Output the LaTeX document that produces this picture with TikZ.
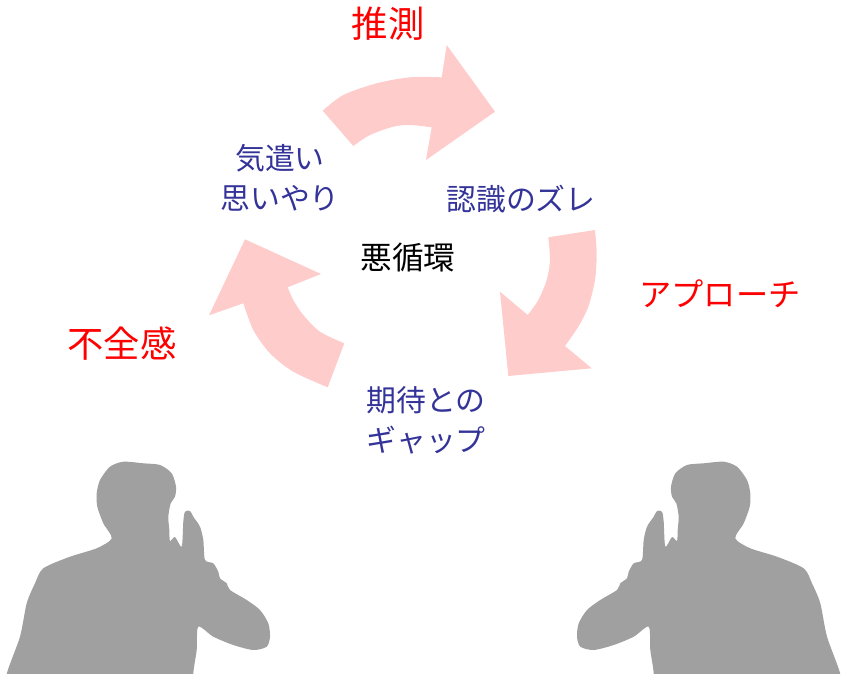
\documentclass[tikz,border=0pt]{standalone}
\usepackage{fontspec}
\setmainfont{Noto Sans CJK JP}
\definecolor{bandpink}{RGB}{255,204,204}
\definecolor{stageblue}{RGB}{51,51,153}
\definecolor{shadowgray}{RGB}{160,160,160}

\tikzset{
    person/.pic={
        \fill[shadowgray] plot[smooth cycle, tension=0.45] coordinates {
            (6.7,674) (20,636.7) (26.7,603.3) (35,583.3) (43.3,568.3)
            (70,556.7) (96.7,548.3) (111.7,538.3) (103.3,523.3) (97.3,506.7)
            (96.7,493.3) (100,480) (110,466.7) (123.3,461.7) (143.3,463.3)
            (160,465) (171.7,473.3) (176,486.7) (175,496.7) (170.7,503.3)
            (168.3,516.7) (169.3,530) (170,541) (175,537) (181.7,546.7)
            (183.3,521.7) (185,511.7) (190,511) (193.3,516.7) (200,526.7)
            (203.3,540) (205,560) (213.3,563.3) (218.3,571.7) (220,578.3)
            (226.7,583.3) (230,590) (246.7,600) (260,610) (268.3,623.3)
            (270,636.7) (266.7,646.7) (253.3,650) (233.3,645) (213.3,636.7)
            (198.3,626.7) (196.7,650) (193.3,674) (195,700) (5,700)};
    }
}

\begin{document}
\begin{tikzpicture}[
    x=0.03cm, y=-0.03cm,
    band/.style={fill=bandpink},
    stage/.style={text=stageblue, align=center, inner sep=0pt, font={\fontsize{25.5pt}{34pt}\selectfont}},
    remark/.style={text=red, inner sep=0pt, font={\fontsize{31pt}{36pt}\selectfont}},
    hub/.style={text=black, inner sep=0pt, font={\fontsize{27pt}{32pt}\selectfont}}
]
    \useasboundingbox (0,0) rectangle (842,674);

    % cycle arrows
    \fill[band] (322.7,110.7)
        -- plot[smooth] coordinates {(322.7,110.7) (343.3,95) (376.7,83.3) (410,77.3) (441.7,77.3)}
        -- (446.7,45) -- (495,111.7) -- (426,160) -- (431.7,127.3)
        -- plot[smooth] coordinates {(431.7,127.3) (410,125) (393.3,126.7) (370,135) (353.3,146)}
        -- cycle;
    \fill[band] (548.3,237.3) -- (595,230)
        -- plot[smooth] coordinates {(595,230) (596.7,253.3) (595,280) (588.3,306.7) (578.3,326.7) (565,346)}
        -- (591.7,368.3) -- (508.3,376) -- (500,291.7) -- (527.7,315)
        -- plot[smooth] coordinates {(527.7,315) (538.3,300) (546.7,280) (550,260) (548.3,237.3)}
        -- cycle;
    \fill[band] (327.7,387.3) -- (344.3,343.3)
        -- plot[smooth] coordinates {(344.3,343.3) (320,331.7) (303.3,315) (293.3,300) (287.7,287.3)}
        -- (321,274) -- (245,239.3) -- (209,315.3) -- (243.3,303.3)
        -- plot[smooth] coordinates {(243.3,303.3) (253.3,330) (270,353.3) (293.3,371.7) (327.7,387.3)}
        -- cycle;

    % stages
    \node[stage] (kizukai) at (280,178) {気遣い\\思いやり};
    \node[stage] (zure) at (521,199) {認識のズレ};
    \node[stage] (gap) at (426,420) {期待との\\ギャップ};
    \node[hub] (akujunkan) at (408,257) {悪循環};

    % remarks
    \node[remark] (suisoku) at (388,24) {推測};
    \node[remark, font={\fontsize{27.5pt}{32pt}\selectfont}] (approach) at (720,294) {アプローチ};
    \node[remark] (fuzenkan) at (122,344) {不全感};

    % people
    \pic at (0,0) {person};
    \pic[xscale=-1] at (847,0) {person};
\end{tikzpicture}
\end{document}
